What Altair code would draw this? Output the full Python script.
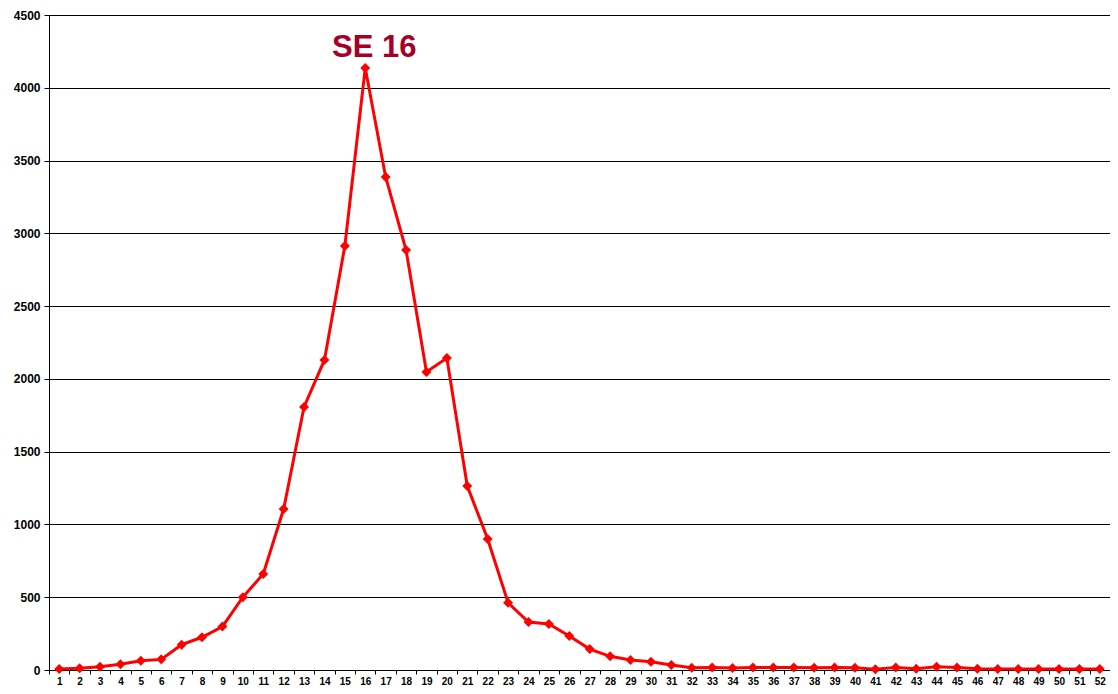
import altair as alt
import pandas as pd

weeks = list(range(1, 53))
cases = [7, 12, 23, 39, 64, 73, 174, 225, 298, 500,
         660, 1106, 1807, 2130, 2913, 4136, 3387, 2885, 2047, 2143,
         1264, 900, 462, 330, 316, 234, 144, 94, 69, 57,
         34, 16, 18, 14, 17, 18, 18, 16, 18, 16,
         5, 18, 9, 23, 18, 9, 7, 7, 7, 7,
         7, 7]
y_ticks = list(range(0, 4501, 500))
annot_week = [16]
annot_text = ["SE 16"]
annot_y = [4210]

df = pd.DataFrame({"week": weeks, "cases": cases})
adf = pd.DataFrame({"week": annot_week, "label": annot_text, "y": annot_y})

font = "Liberation Sans"

x = alt.X("week:O",
          scale=alt.Scale(type="band", paddingInner=0, paddingOuter=0, domain=weeks),
          axis=alt.Axis(title=None, labelAngle=0, labelFont=font, labelFontSize=10,
                        labelFontWeight="bold", labelColor="black", tickBand="extent",
                        tickColor="black", tickSize=4, domainColor="black",
                        labelPadding=2, grid=False, labelOverlap=False))
y = alt.Y("cases:Q",
          scale=alt.Scale(domain=[0, 4500], nice=False),
          axis=alt.Axis(title=None, values=y_ticks, format="d", labelFont=font,
                        labelFontSize=12, labelFontWeight="bold", labelColor="black",
                        tickColor="black", tickSize=5, domainColor="black",
                        gridColor="black", gridOpacity=1, gridWidth=1, labelPadding=4))

line = alt.Chart(df).mark_line(
    color="#FF0000", strokeWidth=3,
    point=alt.OverlayMarkDef(shape="diamond", size=100, color="#FF0000", filled=True, opacity=1)
).encode(x=x, y=y)

text = alt.Chart(adf).mark_text(
    font=font, fontSize=31, fontWeight="bold", color="#A50026",
    baseline="alphabetic", align="center", dx=9
).encode(x=alt.X("week:O"), y=alt.Y("y:Q"), text="label:N")

chart = (line + text).properties(
    width=1061, height=655,
    padding={"left": 41, "top": 7, "right": 0, "bottom": 16},
    autosize=alt.AutoSizeParams(type="none"),
    background="white"
).configure_view(stroke=None)

chart.save("out.html", embed_options={"renderer": "svg", "actions": False})
